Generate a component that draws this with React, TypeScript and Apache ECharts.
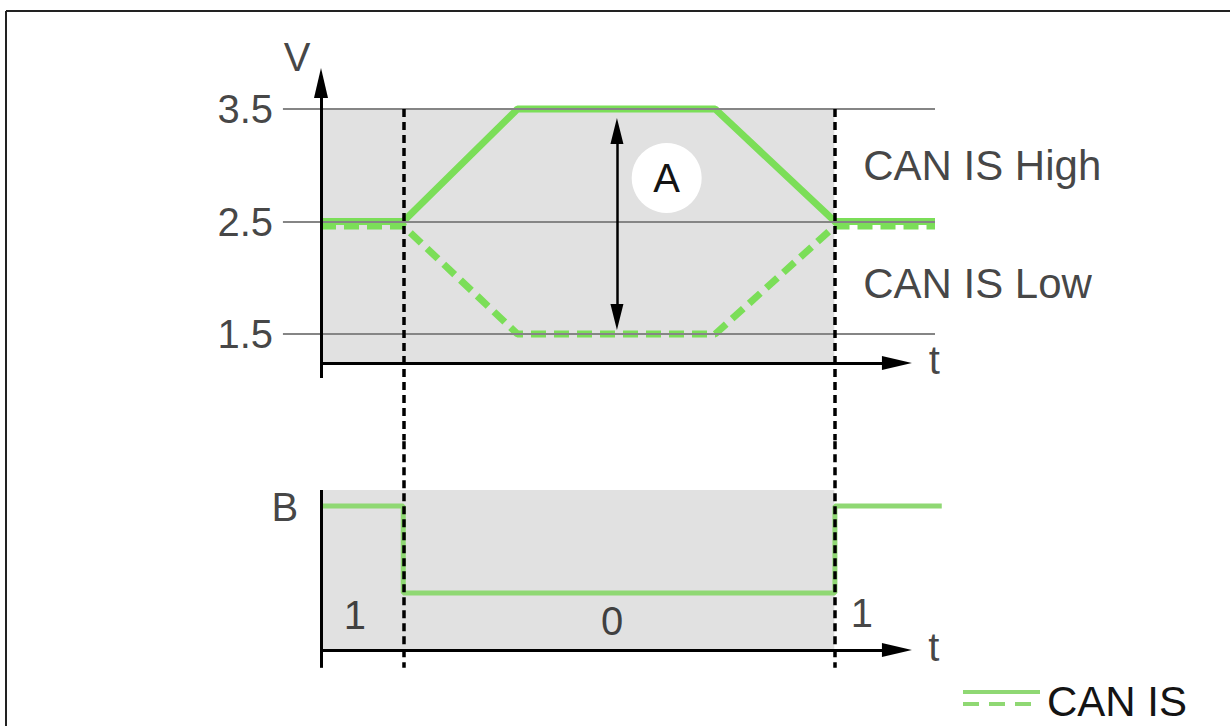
import React, { useEffect, useRef } from 'react';
import * as echarts from 'echarts';

// ---- data ----
const timePoints = [0, 13.4, 32, 64.2, 83.7, 100];
const canHighV = [2.5, 2.5, 3.5, 3.5, 2.5, 2.5];
const canLowV = [2.46, 2.46, 1.5, 1.5, 2.46, 2.46];
const voltTicks = [1.5, 2.5, 3.5];
const bitEdges = [0, 13.4, 83.7, 101.1];
const bitValues = [1, 0, 1, 1];
const bitLabels = ['1', '0', '1'];
const frameEdges = [13.4, 83.6];

// ---- layout ----
const W = 1230;
const H = 726;
const X_MIN = -12;
const X_MAX = 106;
const ORIGIN_PX = 321;
const PX_T = 6.14;
const gridLeft = ORIGIN_PX + X_MIN * PX_T;
const gridRight = W - (ORIGIN_PX + X_MAX * PX_T);

const TOP_MIN = 0.55;
const TOP_MAX = 4.1;
const PX_V = 112.5;
const Y35 = 109;
const topGridTop = Y35 - (TOP_MAX - 3.5) * PX_V;
const topGridH = (TOP_MAX - TOP_MIN) * PX_V;

const BOT_MIN = -1;
const BOT_MAX = 1.75;
const PX_B = 87;
const Y1 = 506;
const botGridTop = Y1 - (BOT_MAX - 1) * PX_B;
const botGridH = (BOT_MAX - BOT_MIN) * PX_B;

const T_AXIS_TOP = 1.242;
const V_AXIS_BOTTOM = 1.11;
const V_AXIS_END = 3.731; // centre of arrow head
const T_ARROW_END = 93.8; // centre of arrow head
const T_AXIS_BOT = -0.655;
const B_AXIS_TOP = 1.184;
const B_AXIS_BOTTOM = -0.86;

const GREEN = '#7bde58';
const GREEN_B = '#8fd873';
const GREY = '#e1e1e1';
const BLACK = '#000000';
const FONT = 'Liberation Sans, Arial, sans-serif';

const txt = (x: number, y: number, text: string, size: number, align: string = 'center') => ({
  value: [x, y],
  name: text,
  label: {
    show: true,
    position: 'inside',
    formatter: '{b}',
    align,
    verticalAlign: 'middle',
    fontSize: size,
    color: '#141414',
    fontFamily: FONT,
  },
});

const arrowEnd = { symbol: 'triangle', symbolSize: [14, 30] };
const noEnd = { symbol: 'none' };

function buildOption() {
  const axisCommon = { show: false, type: 'value' as const, min: X_MIN, max: X_MAX };
  return {
    animation: false,
    grid: [
      { left: gridLeft, right: gridRight, top: topGridTop, height: topGridH },
      { left: gridLeft, right: gridRight, top: botGridTop, height: botGridH },
    ],
    xAxis: [
      { ...axisCommon, gridIndex: 0 },
      { ...axisCommon, gridIndex: 1 },
    ],
    yAxis: [
      { show: false, type: 'value', gridIndex: 0, min: TOP_MIN, max: TOP_MAX },
      { show: false, type: 'value', gridIndex: 1, min: BOT_MIN, max: BOT_MAX },
    ],
    series: [
      // ---- top: background, reference lines ----
      {
        type: 'line',
        xAxisIndex: 0,
        yAxisIndex: 0,
        data: [],
        z: 2,
        silent: true,
        markArea: {
          silent: true,
          itemStyle: { color: GREY },
          data: [[{ coord: [0, T_AXIS_TOP] }, { coord: [frameEdges[1], 3.5] }]],
        },
        markLine: {
          silent: true,
          symbol: 'none',
          label: { show: false },
          data: [
            ...voltTicks.map((v) => [
              { coord: [-6.2, v], ...noEnd, lineStyle: { color: '#858585', width: 2, type: 'solid' } },
              { coord: [100, v], ...noEnd },
            ]),
            ...frameEdges.map((t) => [
              { coord: [t, 3.5], ...noEnd, lineStyle: { color: BLACK, width: 3.5, type: [8, 5] } },
              { coord: [t, TOP_MIN + 0.005], ...noEnd },
            ]),
          ],
        },
      },
      {
        name: 'CAN IS High',
        type: 'line',
        xAxisIndex: 0,
        yAxisIndex: 0,
        z: 3,
        symbol: 'none',
        silent: true,
        data: timePoints.map((t, i) => [t, canHighV[i]]),
        lineStyle: { color: GREEN, width: 7 },
      },
      {
        name: 'CAN IS Low',
        type: 'line',
        xAxisIndex: 0,
        yAxisIndex: 0,
        z: 3,
        symbol: 'none',
        silent: true,
        data: timePoints.map((t, i) => [t, canLowV[i]]),
        lineStyle: { color: GREEN, width: 7, type: [15, 8] },
      },
      // ---- top: axes and double arrow ----
      {
        type: 'line',
        xAxisIndex: 0,
        yAxisIndex: 0,
        data: [],
        z: 4,
        silent: true,
        markLine: {
          silent: true,
          label: { show: false },
          data: [
            [
              { coord: [0, V_AXIS_BOTTOM], ...noEnd, lineStyle: { color: BLACK, width: 3, type: 'solid' } },
              { coord: [0, V_AXIS_END], ...arrowEnd },
            ],
            [
              { coord: [0, T_AXIS_TOP], ...noEnd, lineStyle: { color: BLACK, width: 3, type: 'solid' } },
              { coord: [T_ARROW_END, T_AXIS_TOP], ...arrowEnd },
            ],
            [
              { coord: [48.2, 3.304], symbol: 'triangle', symbolSize: [13, 26], lineStyle: { color: BLACK, width: 2.5, type: 'solid' } },
              { coord: [48.2, 1.651], symbol: 'triangle', symbolSize: [13, 26] },
            ],
          ],
        },
      },
      // ---- top: circle A ----
      {
        type: 'scatter',
        xAxisIndex: 0,
        yAxisIndex: 0,
        z: 5,
        silent: true,
        symbolSize: 70,
        itemStyle: { color: '#ffffff', opacity: 1 },
        data: [
          {
            value: [56.3, 2.887],
            name: 'A',
            label: { show: true, position: 'inside', formatter: '{b}', fontSize: 40, color: '#141414', fontFamily: FONT },
          },
        ],
      },
      // ---- top: texts ----
      {
        type: 'scatter',
        xAxisIndex: 0,
        yAxisIndex: 0,
        z: 6,
        silent: true,
        symbolSize: 1,
        itemStyle: { color: 'rgba(0,0,0,0)' },
        data: [
          ...voltTicks.map((v) => txt(-7.8, v, v.toFixed(1), 40, 'right')),
          txt(-3.9, 3.96, 'V', 40),
          txt(99.0, 1.27, 't', 40, 'left'),
          txt(88.3, 3.0, 'CAN IS High', 42, 'left'),
          txt(88.3, 1.95, 'CAN IS Low', 42, 'left'),
        ],
      },
      // ---- bottom: background, reference lines ----
      {
        type: 'line',
        xAxisIndex: 1,
        yAxisIndex: 1,
        data: [],
        z: 2,
        silent: true,
        markArea: {
          silent: true,
          itemStyle: { color: GREY },
          data: [[{ coord: [0, T_AXIS_BOT] }, { coord: [frameEdges[1], B_AXIS_TOP] }]],
        },
        markLine: {
          silent: true,
          symbol: 'none',
          label: { show: false },
          data: [
            ...frameEdges.map((t) => [
              { coord: [t, BOT_MAX - 0.005], ...noEnd, lineStyle: { color: BLACK, width: 3.5, type: [8, 5] } },
              { coord: [t, B_AXIS_BOTTOM], ...noEnd },
            ]),
          ],
        },
      },
      {
        name: 'B',
        type: 'line',
        xAxisIndex: 1,
        yAxisIndex: 1,
        z: 3,
        symbol: 'none',
        silent: true,
        step: 'end',
        data: bitEdges.map((t, i) => [t, bitValues[i]]),
        lineStyle: { color: GREEN_B, width: 5 },
      },
      {
        type: 'line',
        xAxisIndex: 1,
        yAxisIndex: 1,
        data: [],
        z: 4,
        silent: true,
        markLine: {
          silent: true,
          label: { show: false },
          data: [
            [
              { coord: [0, B_AXIS_TOP], ...noEnd, lineStyle: { color: BLACK, width: 3, type: 'solid' } },
              { coord: [0, B_AXIS_BOTTOM], ...noEnd },
            ],
            [
              { coord: [0, T_AXIS_BOT], ...noEnd, lineStyle: { color: BLACK, width: 3, type: 'solid' } },
              { coord: [T_ARROW_END, T_AXIS_BOT], ...arrowEnd },
            ],
          ],
        },
      },
      {
        type: 'scatter',
        xAxisIndex: 1,
        yAxisIndex: 1,
        z: 6,
        silent: true,
        symbolSize: 1,
        itemStyle: { color: 'rgba(0,0,0,0)' },
        data: [
          txt(-5.9, 0.99, 'B', 40),
          txt(5.5, -0.25, bitLabels[0], 40),
          txt(47.4, -0.32, bitLabels[1], 40),
          txt(88.1, -0.23, bitLabels[2], 40),
          txt(98.9, -0.62, 't', 40, 'left'),
        ],
      },
    ],
    graphic: [
      { type: 'line', shape: { x1: 6, y1: 11, x2: W, y2: 11 }, style: { stroke: '#222', lineWidth: 2 } },
      { type: 'line', shape: { x1: 6, y1: 11, x2: 6, y2: H }, style: { stroke: '#222', lineWidth: 2 } },
      { type: 'line', shape: { x1: 963, y1: 692, x2: 1040, y2: 692 }, style: { stroke: GREEN_B, lineWidth: 4 } },
      { type: 'line', shape: { x1: 963, y1: 704, x2: 1040, y2: 704 }, style: { stroke: GREEN_B, lineWidth: 4, lineDash: [16, 10] } },
      {
        type: 'text',
        left: 1047,
        top: 680,
        style: { text: 'CAN IS', fontSize: 42, fill: '#141414', fontFamily: FONT },
      },
    ],
  };
}

export default function App() {
  const ref = useRef<HTMLDivElement>(null);
  useEffect(() => {
    if (!ref.current) return;
    const chart = echarts.init(ref.current, null, { renderer: 'svg' });
    chart.setOption(buildOption() as any);
    return () => chart.dispose();
  }, []);
  return (
    <div
      ref={ref}
      style={{ position: 'fixed', left: 0, top: 0, width: W, height: H, background: '#ffffff' }}
    />
  );
}
